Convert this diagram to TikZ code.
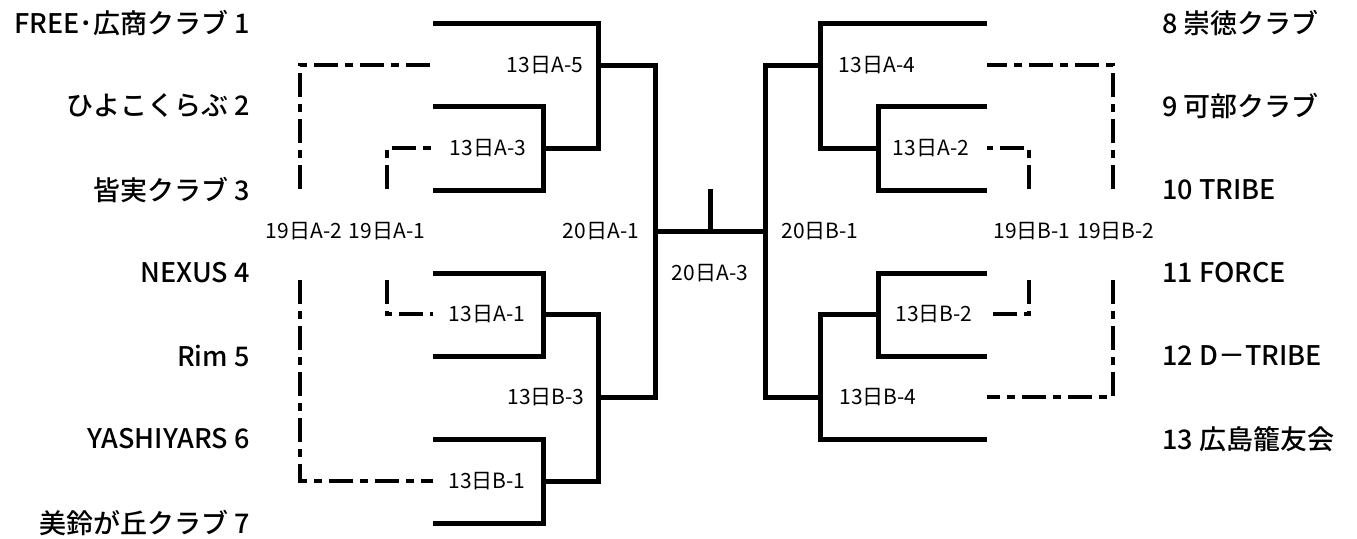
\documentclass[tikz,border=0pt]{standalone}
\usepackage{fontspec}
\setmainfont{Noto Sans CJK JP}
\newfontfamily\mittel{Noto Sans CJK JP Medium}
\usepackage{tikz}
\usetikzlibrary{positioning}

\begin{document}
\begin{tikzpicture}[x=0.5pt, y=-0.5pt,
                    viiva/.style={line width=2.5pt},
                    katko/.style={line width=1.7pt, dash pattern=on 12pt off 3.5pt on 4pt off 3.5pt},
                    joukkue/.style={inner sep=0pt, font=\fontsize{13.5}{16}\selectfont\mittel},
                    ottelu/.style={inner sep=0pt, font=\fontsize{10.5}{12}\selectfont}]

\useasboundingbox (0,0) rectangle (1357,538);

% teams, left
\node[joukkue, anchor=east] (j1) at (250,23)  {FREE･広商クラブ 1};
\node[joukkue, anchor=east] (j2) at (250,106) {ひよこくらぶ 2};
\node[joukkue, anchor=east] (j3) at (250,190) {皆実クラブ 3};
\node[joukkue, anchor=east] (j4) at (250,273) {NEXUS 4};
\node[joukkue, anchor=east] (j5) at (250,356) {Rim 5};
\node[joukkue, anchor=east] (j6) at (250,439) {YASHIYARS 6};
\node[joukkue, anchor=east] (j7) at (250,523) {美鈴が丘クラブ 7};
% teams, right
\node[joukkue, anchor=west] (j8)  at (1162,23)  {8 崇徳クラブ};
\node[joukkue, anchor=west] (j9)  at (1162,106) {9 可部クラブ};
\node[joukkue, anchor=west] (j10) at (1162,190) {10 TRIBE};
\node[joukkue, anchor=west] (j11) at (1162,273) {11 FORCE};
\node[joukkue, anchor=west] (j12) at (1162,356) {12 D－TRIBE};
\node[joukkue, anchor=west] (j13) at (1162,439) {13 広島籠友会};

% line ends
\foreach \i/\y in {1/23,2/106,3/190,4/273,5/356,6/439,7/523}
  \coordinate (t\i) at (433,\y);
\foreach \i/\y in {8/23,9/106,10/190,11/273,12/356,13/439}
  \coordinate (t\i) at (987,\y);

% matches
\coordinate (a3) at (543,148);
\coordinate (a5) at (598,65);
\coordinate (a1) at (543,314);
\coordinate (b1) at (543,481);
\coordinate (b3) at (598,397);
\coordinate (w)  at (655,231);
\coordinate (e)  at (765,231);
\coordinate (a2) at (878,148);
\coordinate (a4) at (820,65);
\coordinate (b2) at (878,314);
\coordinate (b4) at (820,397);
\coordinate (s)  at (710,189);

\node[ottelu] (o1) at (545,65)  {13日A-5};
\node[ottelu] (o2) at (488,148) {13日A-3};
\node[ottelu] (o3) at (487,314) {13日A-1};
\node[ottelu] (o4) at (546,397) {13日B-3};
\node[ottelu] (o5) at (487,481) {13日B-1};
\node[ottelu] (o6) at (601,231) {20日A-1};
\node[ottelu] (o7) at (710,273) {20日A-3};
\node[ottelu] (o8) at (820,231) {20日B-1};
\node[ottelu] (o9) at (877,65)  {13日A-4};
\node[ottelu] (o10) at (931,148) {13日A-2};
\node[ottelu] (o11) at (934,314) {13日B-2};
\node[ottelu] (o12) at (878,397) {13日B-4};
\node[ottelu] (q1) at (304,231)  {19日A-2};
\node[ottelu] (q2) at (387,231)  {19日A-1};
\node[ottelu] (q3) at (1032,231) {19日B-1};
\node[ottelu] (q4) at (1116,231) {19日B-2};

% bracket
\draw[viiva] (t2) -| (a3) |- (t3);
\draw[viiva] (t1) -| (a5) |- (a3);
\draw[viiva] (t4) -| (a1) |- (t5);
\draw[viiva] (t6) -| (b1) |- (t7);
\draw[viiva] (a1) -| (b3) |- (b1);
\draw[viiva] (a5) -| (w) |- (b3);
\draw[viiva] (w) -- (e);
\draw[viiva] (s) -- (s |- w);
\draw[viiva] (t9) -| (a2) |- (t10);
\draw[viiva] (t8) -| (a4) |- (a2);
\draw[viiva] (t11) -| (b2) |- (t12);
\draw[viiva] (b2) -| (b4) |- (t13);
\draw[viiva] (a4) -| (e) |- (b4);

% second round
\draw[katko] (300,189) |- (t1 |- a5);
\draw[katko] (300,280) |- (t1 |- b1);
\draw[katko] (387,189) |- (t1 |- a3);
\draw[katko] (387,280) |- (t1 |- a1);
\draw[katko] (1113,189) |- (t8 |- a4);
\draw[katko] (1113,280) |- (t8 |- b4);
\draw[katko] (1029,189) |- (t8 |- a2);
\draw[katko] (1029,280) |- (t8 |- b2);
\end{tikzpicture}
\end{document}
